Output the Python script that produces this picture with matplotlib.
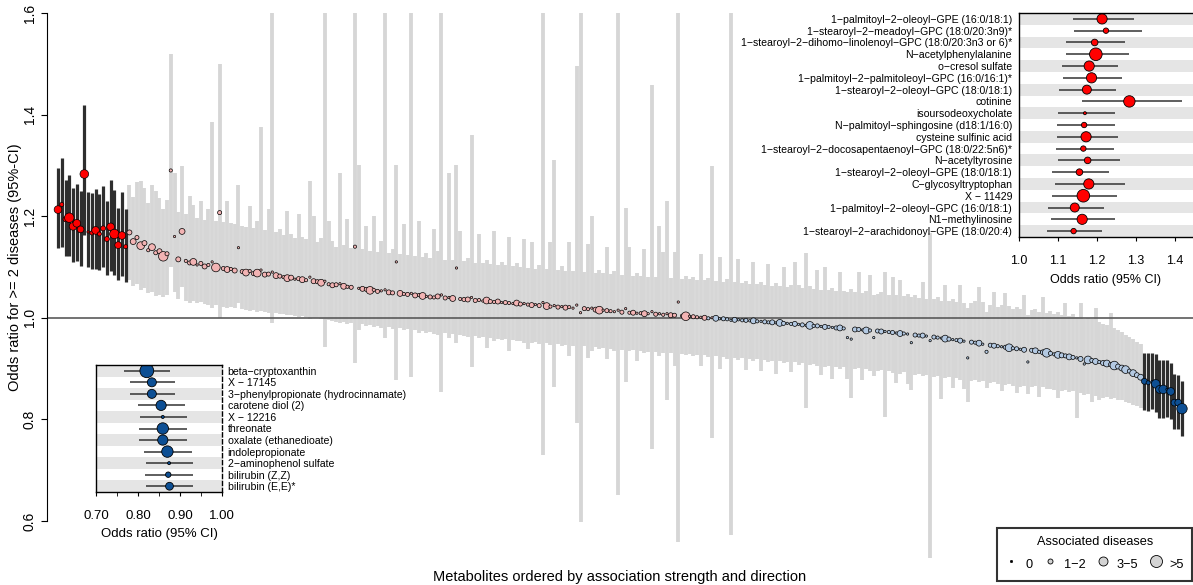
import numpy as np
import matplotlib.pyplot as plt
from matplotlib.lines import Line2D

plt.rcParams['font.family'] = ['Liberation Sans', 'DejaVu Sans']

M = '\u2212'

# 19 strongest positive metabolites (shown left in main plot, top-right inset)
top_names = ['1-palmitoyl-2-oleoyl-GPE (16:0/18:1)', '1-stearoyl-2-meadoyl-GPC (18:0/20:3n9)*',
             '1-stearoyl-2-dihomo-linolenoyl-GPC (18:0/20:3n3 or 6)*', 'N-acetylphenylalanine',
             'o-cresol sulfate', '1-palmitoyl-2-palmitoleoyl-GPC (16:0/16:1)*',
             '1-stearoyl-2-oleoyl-GPC (18:0/18:1)', 'cotinine', 'isoursodeoxycholate',
             'N-palmitoyl-sphingosine (d18:1/16:0)', 'cysteine sulfinic acid',
             '1-stearoyl-2-docosapentaenoyl-GPC (18:0/22:5n6)*', 'N-acetyltyrosine',
             '1-stearoyl-2-oleoyl-GPE (18:0/18:1)', 'C-glycosyltryptophan', 'X - 11429',
             '1-palmitoyl-2-oleoyl-GPC (16:0/18:1)', 'N1-methylinosine',
             '1-stearoyl-2-arachidonoyl-GPE (18:0/20:4)']
top_or = [1.213, 1.223, 1.194, 1.197, 1.180, 1.186, 1.174, 1.283, 1.169, 1.167,
          1.172, 1.165, 1.176, 1.155, 1.179, 1.165, 1.143, 1.162, 1.140]
top_lo = [1.138, 1.140, 1.121, 1.121, 1.109, 1.112, 1.102, 1.162, 1.099, 1.097,
          1.097, 1.094, 1.099, 1.085, 1.092, 1.085, 1.075, 1.083, 1.071]
top_hi = [1.294, 1.315, 1.272, 1.281, 1.255, 1.264, 1.249, 1.419, 1.247, 1.245,
          1.254, 1.243, 1.260, 1.230, 1.272, 1.251, 1.217, 1.247, 1.214]
top_n = [6, 2, 3, 8, 6, 6, 5, 7, 0, 2, 6, 2, 3, 3, 6, 8, 5, 6, 2]

# 11 strongest negative metabolites (bottom-left inset order, right end of main plot reversed)
bot_names = ['beta-cryptoxanthin', 'X - 17145', '3-phenylpropionate (hydrocinnamate)',
             'carotene diol (2)', 'X - 12216', 'threonate', 'oxalate (ethanedioate)',
             'indolepropionate', '2-aminophenol sulfate', 'bilirubin (Z,Z)', 'bilirubin (E,E)*']
bot_or = [0.821, 0.833, 0.833, 0.855, 0.859, 0.859, 0.859, 0.870, 0.874, 0.872, 0.875]
bot_lo = [0.767, 0.782, 0.782, 0.801, 0.805, 0.803, 0.803, 0.815, 0.820, 0.816, 0.819]
bot_hi = [0.875, 0.888, 0.889, 0.911, 0.916, 0.916, 0.917, 0.928, 0.930, 0.930, 0.931]
bot_n = [9, 5, 5, 6, 0, 7, 6, 7, 0, 2, 4]

# all other metabolites, ordered
mid_or = [1.168, 1.150, 1.158, 1.142, 1.147, 1.133, 1.139, 1.128, 1.131, 1.121,
          1.126, 1.290, 1.160, 1.115, 1.170, 1.112, 1.108, 1.110, 1.104, 1.107,
          1.101, 1.104, 1.110, 1.099, 1.207, 1.097, 1.095, 1.096, 1.093, 1.138,
          1.091, 1.089, 1.092, 1.087, 1.088, 1.094, 1.085, 1.086, 1.090, 1.083,
          1.082, 1.080, 1.078, 1.079, 1.076, 1.077, 1.075, 1.074, 1.080, 1.072,
          1.071, 1.069, 1.072, 1.066, 1.064, 1.065, 1.067, 1.062, 1.061, 1.060,
          1.140, 1.058, 1.057, 1.056, 1.054, 1.055, 1.052, 1.053, 1.055, 1.050,
          1.049, 1.110, 1.048, 1.047, 1.046, 1.048, 1.044, 1.045, 1.043, 1.042,
          1.041, 1.040, 1.042, 1.045, 1.039, 1.040, 1.038, 1.098, 1.037, 1.036,
          1.036, 1.040, 1.034, 1.035, 1.033, 1.034, 1.032, 1.031, 1.032, 1.030,
          1.030, 1.029, 1.028, 1.029, 1.027, 1.028, 1.026, 1.025, 1.026, 1.024,
          1.030, 1.023, 1.022, 1.024, 1.021, 1.022, 1.020, 1.021, 1.019, 1.025,
          1.010, 1.018, 1.017, 1.019, 1.016, 1.015, 1.015, 1.014, 1.013, 1.012,
          1.015, 1.011, 1.018, 1.010, 1.010, 1.009, 1.009, 1.008, 1.008, 1.012,
          1.007, 1.008, 1.006, 1.008, 1.005, 1.005, 1.031, 1.004, 1.003, 1.003,
          1.002, 1.001, 1.001, 1.000, 0.999, 1.000, 0.999, 0.998, 0.998, 0.997,
          0.995, 0.996, 0.996, 0.995, 0.995, 0.994, 0.994, 0.993, 0.993, 0.992,
          0.991, 0.991, 0.990, 0.990, 0.989, 0.989, 0.988, 0.988, 0.987, 0.986,
          0.985, 0.985, 0.984, 0.984, 0.983, 0.982, 0.982, 0.981, 0.980, 0.980,
          0.979, 0.961, 0.958, 0.977, 0.977, 0.976, 0.975, 0.975, 0.961, 0.974,
          0.973, 0.973, 0.972, 0.971, 0.970, 0.969, 0.969, 0.968, 0.951, 0.966,
          0.965, 0.965, 0.964, 0.955, 0.962, 0.961, 0.960, 0.959, 0.958, 0.957,
          0.956, 0.955, 0.954, 0.921, 0.952, 0.951, 0.950, 0.948, 0.933, 0.946,
          0.945, 0.944, 0.943, 0.942, 0.941, 0.940, 0.939, 0.938, 0.937, 0.913,
          0.936, 0.935, 0.933, 0.932, 0.931, 0.930, 0.928, 0.927, 0.926, 0.925,
          0.923, 0.922, 0.921, 0.919, 0.909, 0.917, 0.916, 0.914, 0.913, 0.911,
          0.910, 0.908, 0.906, 0.904, 0.901, 0.898, 0.895, 0.891, 0.887, 0.883]
mid_lo = [1.075, 1.062, 1.066, 1.055, 1.058, 1.048, 1.051, 1.043, 1.045, 1.040,
          1.044, 1.100, 1.050, 1.036, 1.060, 1.034, 1.030, 1.033, 1.029, 1.031,
          1.027, 1.026, 1.020, 1.025, 1.000, 1.022, 1.020, 1.021, 1.019, 1.030,
          1.017, 1.016, 1.014, 1.015, 1.012, 1.013, 1.012, 1.010, 0.990, 1.010,
          1.008, 1.007, 1.006, 1.005, 1.004, 1.002, 1.003, 1.001, 0.998, 1.000,
          0.999, 0.997, 0.943, 0.995, 0.994, 0.992, 0.990, 0.992, 0.988, 0.989,
          0.911, 0.975, 0.987, 0.984, 0.985, 0.982, 0.983, 0.979, 0.960, 0.981,
          0.978, 0.878, 0.980, 0.976, 0.977, 0.884, 0.975, 0.971, 0.974, 0.970,
          0.972, 0.969, 0.967, 0.854, 0.970, 0.960, 0.968, 0.950, 0.966, 0.965,
          0.963, 0.903, 0.964, 0.960, 0.962, 0.940, 0.961, 0.955, 0.959, 0.957,
          0.958, 0.935, 0.957, 0.955, 0.954, 0.950, 0.938, 0.951, 0.952, 0.948,
          0.730, 0.950, 0.946, 0.864, 0.948, 0.944, 0.947, 0.925, 0.945, 0.793,
          0.598, 0.944, 0.920, 0.935, 0.942, 0.938, 0.940, 0.918, 0.939, 0.935,
          0.651, 0.937, 0.874, 0.934, 0.936, 0.915, 0.935, 0.931, 0.933, 0.742,
          0.932, 0.925, 0.930, 0.838, 0.931, 0.905, 0.559, 0.929, 0.926, 0.928,
          0.925, 0.927, 0.905, 0.926, 0.922, 0.763, 0.924, 0.900, 0.923, 0.919,
          0.572, 0.921, 0.917, 0.920, 0.898, 0.919, 0.915, 0.918, 0.895, 0.917,
          0.913, 0.915, 0.890, 0.914, 0.910, 0.913, 0.893, 0.912, 0.908, 0.910,
          0.823, 0.907, 0.909, 0.905, 0.888, 0.903, 0.906, 0.880, 0.904, 0.900,
          0.903, 0.880, 0.842, 0.899, 0.901, 0.878, 0.900, 0.896, 0.885, 0.895,
          0.897, 0.805, 0.895, 0.892, 0.872, 0.890, 0.893, 0.870, 0.858, 0.888,
          0.890, 0.886, 0.888, 0.527, 0.884, 0.886, 0.840, 0.882, 0.884, 0.862,
          0.882, 0.878, 0.860, 0.835, 0.876, 0.878, 0.874, 0.876, 0.862, 0.872,
          0.874, 0.870, 0.855, 0.868, 0.870, 0.866, 0.852, 0.864, 0.866, 0.850,
          0.863, 0.865, 0.845, 0.863, 0.859, 0.860, 0.857, 0.842, 0.855, 0.857,
          0.853, 0.855, 0.803, 0.851, 0.848, 0.849, 0.835, 0.846, 0.838, 0.843,
          0.845, 0.841, 0.842, 0.838, 0.839, 0.834, 0.832, 0.829, 0.826, 0.822]
mid_hi = [1.262, 1.238, 1.268, 1.270, 1.255, 1.226, 1.262, 1.250, 1.236, 1.214,
          1.231, 1.520, 1.285, 1.208, 1.298, 1.205, 1.240, 1.222, 1.196, 1.230,
          1.193, 1.215, 1.386, 1.190, 1.500, 1.188, 1.230, 1.187, 1.184, 1.262,
          1.181, 1.178, 1.220, 1.176, 1.190, 1.376, 1.172, 1.215, 1.700, 1.168,
          1.175, 1.162, 1.210, 1.165, 1.158, 1.205, 1.160, 1.155, 1.270, 1.200,
          1.150, 1.158, 1.700, 1.190, 1.152, 1.140, 1.285, 1.143, 1.195, 1.138,
          1.700, 1.300, 1.136, 1.180, 1.132, 1.200, 1.130, 1.152, 1.700, 1.128,
          1.135, 1.300, 1.126, 1.185, 1.124, 1.700, 1.122, 1.190, 1.120, 1.128,
          1.117, 1.175, 1.131, 1.700, 1.114, 1.285, 1.113, 1.300, 1.170, 1.111,
          1.118, 1.360, 1.108, 1.165, 1.107, 1.114, 1.105, 1.170, 1.104, 1.110,
          1.103, 1.160, 1.101, 1.108, 1.100, 1.155, 1.098, 1.150, 1.097, 1.103,
          1.700, 1.096, 1.150, 1.311, 1.094, 1.101, 1.093, 1.150, 1.092, 1.495,
          1.700, 1.091, 1.145, 1.200, 1.089, 1.095, 1.088, 1.140, 1.086, 1.092,
          1.700, 1.084, 1.217, 1.140, 1.083, 1.088, 1.082, 1.135, 1.081, 1.459,
          1.080, 1.180, 1.130, 1.230, 1.078, 1.130, 1.700, 1.077, 1.082, 1.076,
          1.081, 1.075, 1.125, 1.074, 1.079, 1.298, 1.072, 1.120, 1.071, 1.076,
          1.700, 1.070, 1.115, 1.068, 1.073, 1.067, 1.110, 1.066, 1.070, 1.065,
          1.105, 1.063, 1.068, 1.062, 1.100, 1.061, 1.065, 1.110, 1.064, 1.058,
          1.128, 1.062, 1.056, 1.095, 1.055, 1.100, 1.054, 1.058, 1.053, 1.090,
          1.052, 1.050, 1.056, 1.050, 1.090, 1.049, 1.053, 1.085, 1.045, 1.047,
          1.051, 1.090, 1.045, 1.080, 1.044, 1.075, 1.042, 1.046, 1.040, 1.045,
          1.039, 1.070, 1.037, 1.167, 1.036, 1.040, 1.034, 1.065, 1.033, 1.037,
          1.031, 1.065, 1.030, 1.020, 1.029, 1.033, 1.060, 1.031, 1.012, 1.025,
          1.050, 1.022, 1.026, 1.048, 1.024, 1.018, 1.022, 1.017, 1.045, 1.005,
          1.015, 1.018, 1.012, 1.040, 1.010, 1.014, 1.008, 1.012, 1.006, 1.030,
          1.003, 1.007, 1.001, 1.030, 0.998, 1.000, 0.997, 1.020, 0.992, 0.988,
          0.985, 1.010, 0.979, 0.975, 0.972, 0.967, 0.963, 0.958, 0.953, 0.948]
mid_n = [3, 4, 2, 6, 3, 1, 5, 2, 3, 8, 2, 1, 0, 3, 4, 1, 2, 5, 0, 2,
         3, 1, 0, 7, 2, 2, 4, 1, 3, 0, 2, 5, 1, 2, 6, 0, 3, 2, 0, 4,
         2, 1, 5, 3, 0, 2, 4, 1, 0, 3, 2, 5, 0, 1, 3, 2, 0, 4, 1, 2,
         1, 0, 3, 2, 6, 1, 2, 0, 0, 3, 2, 0, 4, 1, 2, 0, 3, 1, 5, 0,
         2, 1, 3, 0, 2, 0, 4, 0, 1, 2, 3, 0, 2, 1, 0, 5, 2, 1, 3, 0,
         2, 1, 0, 4, 2, 0, 1, 3, 0, 2, 0, 5, 1, 0, 2, 0, 3, 1, 0, 0,
         0, 2, 1, 0, 3, 6, 0, 2, 1, 0, 0, 2, 0, 1, 3, 0, 1, 4, 0, 0,
         2, 0, 1, 0, 3, 2, 0, 1, 7, 0, 2, 1, 0, 3, 1, 0, 4, 0, 2, 1,
         0, 3, 0, 1, 2, 0, 4, 1, 0, 2, 1, 3, 0, 5, 2, 0, 1, 3, 0, 2,
         0, 6, 1, 2, 0, 3, 1, 0, 2, 4, 1, 0, 0, 3, 2, 0, 5, 1, 0, 2,
         3, 0, 1, 2, 0, 4, 1, 0, 0, 2, 1, 3, 0, 0, 2, 1, 0, 5, 2, 0,
         1, 3, 0, 0, 2, 1, 4, 0, 1, 2, 3, 1, 0, 2, 6, 1, 2, 0, 3, 0,
         2, 4, 1, 3, 7, 2, 1, 5, 3, 2, 4, 2, 0, 3, 0, 6, 2, 4, 1, 3,
         5, 2, 7, 3, 4, 6, 2, 5, 3, 4]

odds = np.array(top_or + mid_or + bot_or[::-1])
ci_lo = np.array(top_lo + mid_lo + bot_lo[::-1])
ci_hi = np.array(top_hi + mid_hi + bot_hi[::-1])
n_dis = np.array(top_n + mid_n + bot_n[::-1])
N = len(odds)
n_top, n_bot = len(top_or), len(bot_or)
pos = np.arange(N)
is_hl = (pos < n_top) | (pos >= N - n_bot)

W, H = 1193, 585


def rect(x0, y0, x1, y1):
    return [x0 / W, 1 - y1 / H, (x1 - x0) / W, (y1 - y0) / H]


def s_main(n):
    return ((2.3 + 0.9 * np.asarray(n)) * 0.72) ** 2


def s_inset(n):
    return ((3.0 + 1.2 * np.asarray(n)) * 0.72) ** 2


fig = plt.figure(figsize=(W / 100, H / 100), dpi=100)

# ---- main plot
ax = fig.add_axes(rect(47, 13, 1193, 561.6))
ax.vlines(pos[~is_hl], ci_lo[~is_hl], ci_hi[~is_hl], color='#d6d6d6', lw=2.75, zorder=1)
ax.vlines(pos[is_hl], ci_lo[is_hl], ci_hi[is_hl], color='#2e2e2e', lw=2.3, zorder=1.5)
ax.axhline(1.0, color='#5a5a5a', lw=1.2, zorder=2)

fill = np.where(odds >= 1, '#f2b3b3', '#b3c9e2').astype(object)
fill[:n_top] = '#ff0000'
fill[N - n_bot:] = '#0d4f94'
ax.scatter(pos, odds, s=s_main(n_dis), c=list(fill), edgecolors='black', linewidths=0.5, zorder=3)

ax.set_xlim(-11 / 3.759, N - 1 + 11 / 3.759)
ax.set_ylim(0.52, 1.6)
for s in ['top', 'right', 'bottom']:
    ax.spines[s].set_visible(False)
ax.spines['left'].set_bounds(0.6, 1.6)
ax.set_xticks([])
yt = [0.6, 0.8, 1.0, 1.2, 1.4, 1.6]
ax.set_yticks(yt)
ax.set_yticklabels(['%.1f' % v for v in yt], rotation=90, va='center', fontsize=10)
ax.tick_params(axis='y', length=4.5, pad=3)
fig.text(15 / W, 1 - 267 / H, 'Odds ratio for >= 2 diseases (95%-CI)', rotation=90,
         ha='center', va='center', fontsize=10.5)
fig.text(620 / W, 1 - 577 / H, 'Metabolites ordered by association strength and direction',
         ha='center', va='center', fontsize=10.5)

# ---- top-right inset
ai = fig.add_axes(rect(1019, 13, 1193, 237))
rows = np.arange(len(top_or))
for r in rows[::2]:
    ai.axhspan(r - 0.5, r + 0.5, color='#e5e5e5', lw=0, zorder=0)
ai.hlines(rows, top_lo, top_hi, color='#333333', lw=1.1, zorder=1)
ai.scatter(top_or, rows, s=s_inset(top_n), c='#ff0000', edgecolors='black', linewidths=0.6, zorder=2)
ai.set_xlim(1.0, 1.0 + 174 / 390)
ai.set_ylim(len(top_or) - 0.5, -0.5)
ai.set_yticks(rows)
ai.set_yticklabels([t.replace('-', M) for t in top_names], fontsize=7.6)
ai.tick_params(axis='y', length=0, pad=5)
ai.set_xticks([1.0, 1.1, 1.2, 1.3, 1.4])
ai.set_xticklabels(['1.0', '1.1', '1.2', '1.3', '1.4'], fontsize=9)
ai.tick_params(axis='x', length=3, pad=10)
ai.set_xlabel('Odds ratio (95% CI)', fontsize=9, labelpad=5)
ai.spines['right'].set_visible(False)
for s in ['left', 'top', 'bottom']:
    ai.spines[s].set_linewidth(1.0)

# ---- bottom-left inset
ab = fig.add_axes(rect(96, 365, 222, 492))
rows = np.arange(len(bot_or))
for r in rows[::2]:
    ab.axhspan(r - 0.5, r + 0.5, color='#e5e5e5', lw=0, zorder=0)
ab.hlines(rows, bot_lo, bot_hi, color='#333333', lw=1.1, zorder=1)
ab.scatter(bot_or, rows, s=s_inset(bot_n), c='#0d4f94', edgecolors='black', linewidths=0.6, zorder=2)
ab.set_xlim(0.70, 1.00)
ab.set_ylim(len(bot_or) - 0.5, -0.5)
ab.yaxis.tick_right()
ab.set_yticks(rows)
ab.set_yticklabels([t.replace('-', M) for t in bot_names], fontsize=7.6)
ab.tick_params(axis='y', length=0, pad=4)
ab.set_xticks([0.70, 0.80, 0.90, 1.00])
ab.set_xticklabels(['0.70', '0.80', '0.90', '1.00'], fontsize=9.5)
ab.set_xticks([0.75, 0.85, 0.95], minor=True)
ab.tick_params(axis='x', which='both', length=3, pad=10)
ab.set_xlabel('Odds ratio (95% CI)', fontsize=9.5, labelpad=4)
ab.spines['right'].set_linestyle((0, (3, 2)))
for s in ['left', 'top', 'bottom', 'right']:
    ab.spines[s].set_linewidth(1.0)

# ---- legend
leg_labels = ['0', '1' + M + '2', '3' + M + '5', '>5']
leg_px = [2.3, 5, 9, 12]
handles = [Line2D([], [], ls='', marker='o', ms=leg_px[0] * 0.72, mfc='black', mec='black', mew=0.5)]
handles += [Line2D([], [], ls='', marker='o', ms=d * 0.72, mfc='#d3d3d3', mec='black', mew=0.6)
            for d in leg_px[1:]]
leg = fig.legend(handles, leg_labels, ncol=4, title='Associated diseases', fontsize=9.2,
                 title_fontsize=9.2, loc='lower right', bbox_to_anchor=(1192 / W, 4 / H),
                 borderaxespad=0, frameon=True, fancybox=False, edgecolor='black',
                 handlelength=1.0, handleheight=1.9, handletextpad=0.6, columnspacing=0.85,
                 borderpad=0.6)
leg.get_frame().set_linewidth(1.5)

fig.savefig('out.png', dpi=100)
